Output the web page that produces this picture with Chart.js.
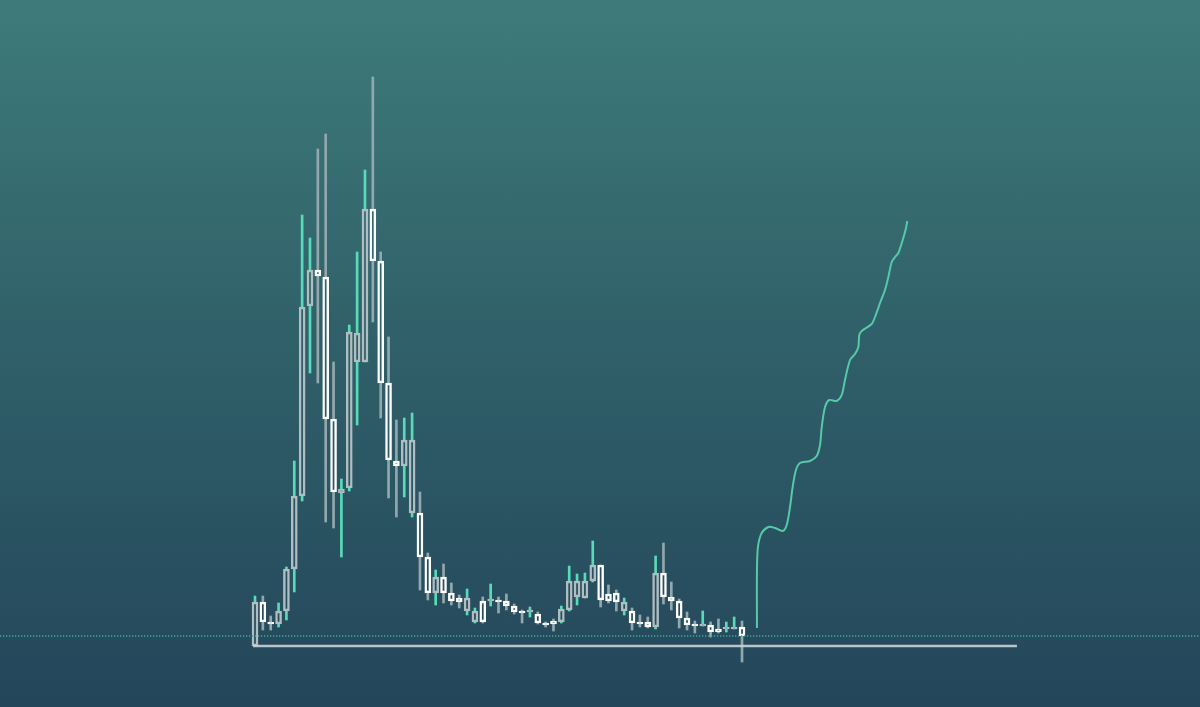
<!DOCTYPE html>
<html>
<head>
<meta charset="utf-8">
<script src="https://cdn.jsdelivr.net/npm/chart.js@4.4.1/dist/chart.umd.min.js"></script>
<style>
    html, body { margin: 0; padding: 0; }
    body {
        width: 1200px; height: 707px; overflow: hidden;
        background: linear-gradient(180deg, #3e7b79 0%, #2f5f69 50%, #24465a 100%);
    }
    #wrap { position: relative; width: 1200px; height: 707px; }
</style>
</head>
<body>
<div id="wrap"><canvas id="chart"></canvas></div>
<script>
// Candle values (one per period)
const opens  = [14, 58, 38, 36, 49, 91, 164, 354, 390, 383, 241, 167, 172, 298, 298, 451, 399, 277, 199, 194, 147, 147, 103, 67, 83, 67, 62, 49, 38, 59, 59, 60, 59, 54, 49, 48, 46, 37, 39, 38, 50, 63, 62, 79, 95, 66, 67, 49, 49, 38, 38, 33, 87, 63, 59, 42, 36, 34, 35, 31, 31, 31, 33];
const highs  = [64, 64, 44, 57, 93, 199, 445, 422, 511, 526, 298, 181, 335, 408, 490, 583, 408, 323, 240, 242, 247, 168, 107, 90, 96, 77, 65, 71, 52, 63, 76, 63, 66, 56, 50, 53, 48, 38, 41, 54, 94, 86, 87, 119, 95, 75, 70, 62, 52, 45, 43, 104, 117, 78, 61, 48, 39, 49, 38, 41, 38, 43, 39];
const lows   = [14, 30, 30, 33, 40, 68, 159, 287, 277, 138, 132, 103, 169, 235, 298, 338, 242, 162, 143, 163, 143, 70, 60, 55, 57, 55, 52, 45, 37, 37, 54, 47, 50, 46, 37, 43, 36, 33, 29, 37, 49, 55, 62, 78, 53, 57, 49, 45, 30, 33, 32, 31, 56, 50, 32, 30, 27, 34, 23, 27, 28, 31, -2];
const closes = [58, 38, 36, 49, 91, 164, 353, 390, 384, 241, 168, 171, 328, 327, 451, 399, 277, 200, 194, 220, 220, 103, 67, 83, 67, 59, 58, 62, 49, 38, 61, 58, 54, 48, 47, 50, 37, 35, 36, 51, 79, 79, 79, 95, 60, 59, 58, 58, 37, 36, 33, 87, 63, 59, 42, 35, 34, 36, 28, 28, 33, 33, 24];

// Rising curve on the right
const curveX = [63.9, 63.95, 64.38, 65.35, 66.2, 67.18, 67.69, 68.11, 68.45, 68.87, 69.38, 70.66, 71.51, 71.93, 72.15, 72.57, 73.11, 74.05, 74.69, 75.11, 75.75, 76.38, 76.81, 76.93, 77.24, 78.51, 78.93, 79.57, 80.2, 80.63, 81.06, 81.48, 81.9, 82.46, 82.88, 83.04];
const curveY = [32, 105, 125, 133, 132, 129, 135, 153, 173, 190, 197, 199, 204, 215, 233, 253, 260, 259, 265, 280, 300, 306, 313, 325, 329, 336, 343, 357, 370, 383, 398, 403, 407, 420, 432, 439];

// Reference levels
const dottedLevel = 24;
const floorLevel = 14;
const floorFrom = -0.25;
const floorTo = 97;

const upBody = '#b0bec2';
const downBody = '#ffffff';
const upWick = '#58dbb8';
const downWick = '#93a8ad';

const isUp = opens.map((o, i) => closes[i] >= o);

// Bodies as floating bars, wicks split above and below so bodies stay hollow
const bodyData = opens.map((o, i) => {
    let lo = Math.min(o, closes[i]);
    let hi = Math.max(o, closes[i]);
    if (hi - lo < 2) { hi = lo + 2; }
    return { x: i, y: [lo, hi] };
});
const upperWickData = opens.map((o, i) => ({ x: i, y: [Math.max(o, closes[i]), highs[i]] }));
const lowerWickData = opens.map((o, i) => ({ x: i, y: [lows[i], Math.min(o, closes[i])] }));
const wickColors = isUp.map(u => u ? upWick : downWick);
const bodyColors = isUp.map(u => u ? upBody : downBody);

const curveData = curveX.map((x, i) => ({ x: x, y: curveY[i] }));

const xMin = -255 / 7.855;
const xMax = xMin + 1200 / 7.855;

const chart = new Chart(document.getElementById('chart'), {
    type: 'bar',
    data: {
        datasets: [
            {
                type: 'line',
                data: [{ x: xMin, y: dottedLevel }, { x: xMax, y: dottedLevel }],
                borderColor: '#3aab9d',
                borderWidth: 1.6,
                borderDash: [1.3, 1.7],
                pointRadius: 0,
                order: 1
            },
            {
                type: 'line',
                data: [{ x: floorFrom, y: floorLevel }, { x: floorTo, y: floorLevel }],
                borderColor: 'rgba(200, 212, 214, 0.9)',
                borderWidth: 2.5,
                pointRadius: 0,
                order: 2
            },
            {
                type: 'line',
                data: curveData,
                borderColor: '#55c9a9',
                borderWidth: 2,
                tension: 0.3,
                pointRadius: 0,
                order: 0
            },
            {
                data: upperWickData,
                backgroundColor: wickColors,
                borderWidth: 0,
                barThickness: 2,
                grouped: false,
                order: 5
            },
            {
                data: lowerWickData,
                backgroundColor: wickColors,
                borderWidth: 0,
                barThickness: 2,
                grouped: false,
                order: 5
            },
            {
                data: bodyData,
                backgroundColor: 'rgba(0,0,0,0)',
                borderColor: bodyColors,
                borderWidth: 1.8,
                borderSkipped: false,
                barThickness: 6,
                grouped: false,
                order: 3
            }
        ]
    },
    options: {
        responsive: true,
        maintainAspectRatio: false,
        animation: false,
        layout: { padding: 0 },
        plugins: {
            legend: { display: false },
            tooltip: { enabled: false }
        },
        scales: {
            x: { type: 'linear', min: xMin, max: xMax, offset: false, display: false },
            y: { min: -47, max: 660, display: false }
        }
    }
});
</script>
</body>
</html>
